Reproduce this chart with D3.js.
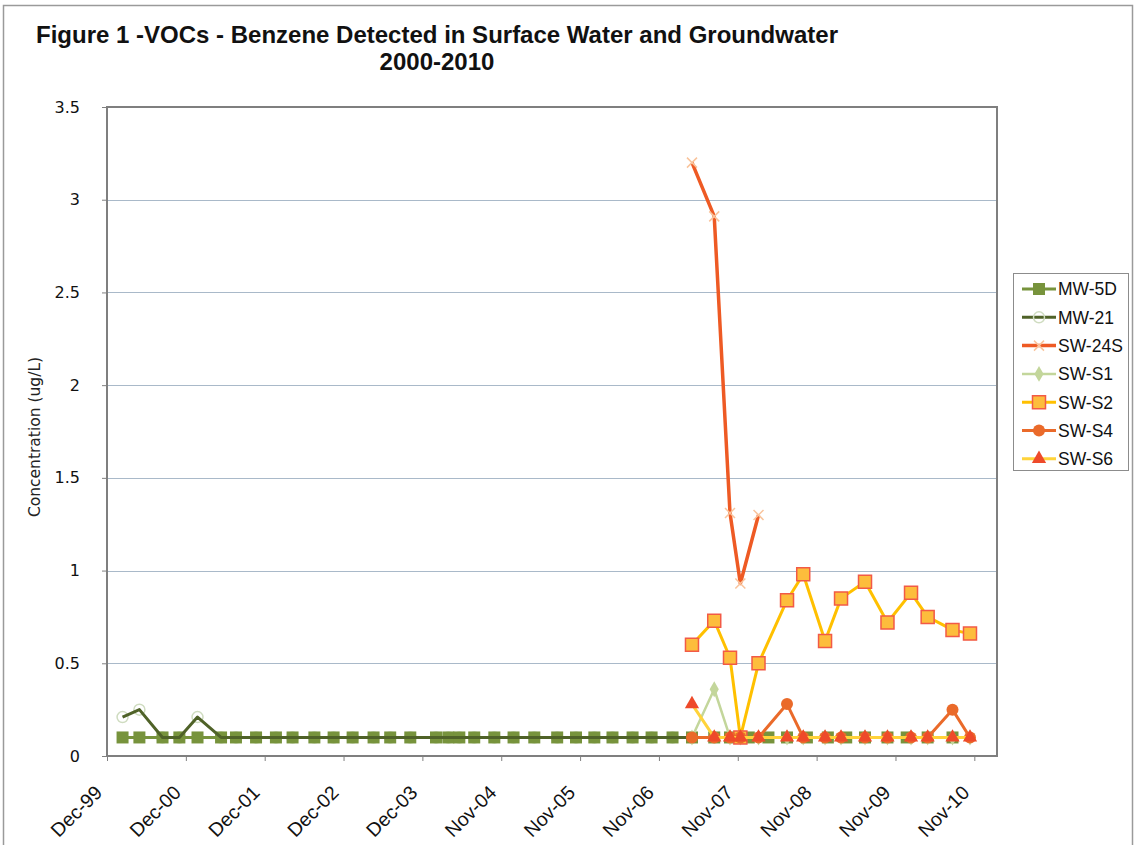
<!DOCTYPE html>
<html lang="en">
<head>
  <meta charset="UTF-8">
  <title>Benzene Detected in Surface Water and Groundwater</title>
  <script src="https://d3js.org/d3.v7.min.js"></script>
  <style>
    body { margin: 0; background: #fff; }
    svg { display: block; font-family: "Liberation Sans", Arial, sans-serif; }
    .grid line { stroke: #a9b9c9; stroke-width: 1; }
    .axis path, .axis line { stroke: #808080; }
  </style>
</head>
<body>
<svg id="chart" width="1136" height="845"></svg>

<script>
  // sampling dates of the monitoring wells
  const mwDates = [
    "2000-02-12", "2000-04-30", "2000-08-15", "2000-11-01", "2001-01-24", "2001-05-13",
    "2001-07-21", "2001-10-22", "2002-01-22", "2002-04-09", "2002-07-19", "2002-10-16",
    "2003-01-12", "2003-04-19", "2003-07-05", "2003-10-06", "2004-02-02", "2004-03-30",
    "2004-05-20", "2004-07-28", "2004-10-29", "2005-01-26", "2005-05-02", "2005-08-16",
    "2005-11-11", "2006-02-04", "2006-04-29", "2006-07-31", "2006-10-27", "2007-02-01",
    "2007-05-02"
  ];
  const mw5dLateDates = [
    "2007-08-13", "2007-10-25", "2008-01-20", "2008-04-20", "2008-07-15", "2008-10-15",
    "2009-01-20", "2009-04-15", "2009-07-11", "2009-10-23", "2010-01-20", "2010-04-27",
    "2010-08-20"
  ];
  // surface water sampling dates
  const swDates = [
    "2007-05-02", "2007-08-13", "2007-10-25", "2007-12-12", "2008-03-05", "2008-07-15",
    "2008-09-28", "2009-01-07", "2009-03-22", "2009-07-11", "2009-10-23", "2010-02-09",
    "2010-04-27", "2010-08-20", "2010-11-09"
  ];

  // concentrations (ug/L)
  const mw5d = new Array(mwDates.length + mw5dLateDates.length).fill(0.1);
  const mw21 = [0.21, 0.25, 0.1, 0.1, 0.21, 0.1, 0.1, 0.1, 0.1, 0.1, 0.1, 0.1, 0.1, 0.1, 0.1, 0.1,
                0.1, 0.1, 0.1, 0.1, 0.1, 0.1, 0.1, 0.1, 0.1, 0.1, 0.1, 0.1, 0.1, 0.1, 0.1];
  const sw24s = [3.2, 2.91, 1.31, 0.93, 1.3];
  const swS1 = [0.1, 0.36, 0.1, 0.1, 0.1, 0.1, 0.1, 0.1, 0.1, 0.1, 0.1, 0.1, 0.1, 0.1, 0.1];
  const swS2 = [0.6, 0.73, 0.53, 0.1, 0.5, 0.84, 0.98, 0.62, 0.85, 0.94, 0.72, 0.88, 0.75, 0.68, 0.66];
  const swS4 = [0.1, 0.1, 0.1, 0.1, 0.1, 0.28, 0.1, 0.1, 0.1, 0.1, 0.1, 0.1, 0.1, 0.25, 0.1];
  const swS6 = [0.28, 0.1, 0.1, 0.1, 0.1, 0.1, 0.1, 0.1, 0.1, 0.1, 0.1, 0.1, 0.1, 0.1, 0.1];

  const yTicks = [0, 0.5, 1, 1.5, 2, 2.5, 3, 3.5];

  const parse = d3.timeParse("%Y-%m-%d");
  const zip = (dates, vals) => vals.map((v, i) => ({ date: parse(dates[i]), value: v }));

  const series = [
    { name: "MW-5D",  data: zip(mwDates.concat(mw5dLateDates), mw5d), line: "#77933c", width: 3, marker: "square", fill: "#77933c", stroke: "none", size: 12 },
    { name: "MW-21",  data: zip(mwDates, mw21), line: "#4f6228", width: 3, marker: "circle", fill: "none", stroke: "#cfdcc0", size: 11 },
    { name: "SW-24S", data: zip(swDates, sw24s), line: "#ee5a24", width: 3.5, marker: "x", fill: "none", stroke: "#f9c49c", size: 10 },
    { name: "SW-S1",  data: zip(swDates, swS1), line: "#c3d69b", width: 2.5, marker: "diamond", fill: "#c3d69b", stroke: "none", size: 11 },
    { name: "SW-S2",  data: zip(swDates, swS2), line: "#ffc000", width: 3, marker: "square", fill: "#fdbd3c", stroke: "#f25a46", size: 13 },
    { name: "SW-S4",  data: zip(swDates, swS4), line: "#ea6a2a", width: 3, marker: "circle", fill: "#ea6a2a", stroke: "none", size: 12 },
    { name: "SW-S6",  data: zip(swDates, swS6), line: "#ffd33a", width: 3, marker: "triangle", fill: "#ee4a2a", stroke: "none", size: 14 }
  ];

  const svg = d3.select("#chart");
  const plot = { left: 107, right: 997, top: 107, bottom: 756 };

  // outer chart border
  svg.append("rect")
      .attr("x", 3.5).attr("y", 5.5).attr("width", 1129).attr("height", 850)
      .attr("fill", "none").attr("stroke", "#9a9a9a").attr("stroke-width", 1.5);

  // axis starts Dec-99, major unit 365 days
  const start = new Date(1999, 11, 2);
  const x = d3.scaleTime()
      .domain([start, d3.timeDay.offset(start, 4120)])
      .range([plot.left, plot.right]);
  const y = d3.scaleLinear()
      .domain([0, 3.5])
      .range([plot.bottom, plot.top]);

  const xTicks = d3.range(12).map(k => d3.timeDay.offset(start, 365 * k));

  // gridlines
  svg.append("g")
      .attr("class", "grid")
    .selectAll("line")
    .data(yTicks.filter(t => t > 0 && t < 3.5))
    .enter().append("line")
      .attr("x1", plot.left).attr("x2", plot.right)
      .attr("y1", d => Math.round(y(d)) + 0.5).attr("y2", d => Math.round(y(d)) + 0.5);

  // plot frame
  svg.append("rect")
      .attr("x", plot.left).attr("y", plot.top)
      .attr("width", plot.right - plot.left).attr("height", plot.bottom - plot.top)
      .attr("fill", "none").attr("stroke", "#7f7f7f").attr("stroke-width", 2);

  // y axis
  const yAxis = svg.append("g")
      .attr("class", "axis")
      .attr("transform", `translate(${plot.left},0)`)
      .call(d3.axisLeft(y).tickValues(yTicks).tickSize(5).tickPadding(22)
        .tickFormat(d3.format("")));
  yAxis.select(".domain").remove();
  yAxis.selectAll("text")
      .style("font-family", "'DejaVu Sans', sans-serif")
      .style("font-size", "16px")
      .attr("fill", "#111");

  // x axis
  const xAxis = svg.append("g")
      .attr("class", "axis")
      .attr("transform", `translate(0,${plot.bottom})`)
      .call(d3.axisBottom(x).tickValues(xTicks).tickSize(5)
        .tickFormat(d3.timeFormat("%b-%y")));
  xAxis.select(".domain").remove();
  xAxis.selectAll("text")
      .style("font-size", "19.5px")
      .attr("fill", "#111")
      .attr("text-anchor", "end")
      .attr("y", 0).attr("dy", "0.35em")
      .attr("transform", "translate(-9,33) rotate(-45)");

  // series lines and markers
  const symbolType = { square: d3.symbolSquare, circle: d3.symbolCircle, diamond: d3.symbolDiamond, triangle: d3.symbolTriangle };

  function drawMarker(g, s) {
    if (s.marker === "x") {
      const h = s.size / 2;
      g.append("path")
          .attr("d", `M${-h},${-h}L${h},${h}M${-h},${h}L${h},${-h}`)
          .attr("stroke", s.stroke).attr("stroke-width", 1.5).attr("fill", "none");
    } else {
      const area = s.marker === "circle" ? Math.PI * (s.size / 2) ** 2
                 : s.marker === "triangle" ? s.size * s.size * 0.45
                 : s.marker === "diamond" ? s.size * s.size * 0.6
                 : s.size * s.size;
      g.append("path")
          .attr("d", d3.symbol().type(symbolType[s.marker]).size(area)())
          .attr("fill", s.fill)
          .attr("stroke", s.stroke)
          .attr("stroke-width", s.stroke === "none" ? 0 : 1.5);
    }
  }

  const line = d3.line().x(d => x(d.date)).y(d => y(d.value));

  function drawLine(s) {
    svg.append("path")
        .datum(s.data)
        .attr("d", line)
        .attr("fill", "none")
        .attr("stroke", s.line)
        .attr("stroke-width", s.width)
        .attr("stroke-linejoin", "round");
  }
  function drawMarkers(s) {
    svg.append("g").selectAll("g")
      .data(s.data)
      .enter().append("g")
        .attr("transform", d => `translate(${x(d.date)},${y(d.value)})`)
        .each(function() { drawMarker(d3.select(this), s); });
  }

  // the hollow MW-21 rings sit under the MW-5D squares, its line on top
  drawMarkers(series[1]);
  drawLine(series[0]);
  drawMarkers(series[0]);
  drawLine(series[1]);
  series.slice(2).forEach(s => { drawLine(s); drawMarkers(s); });

  // legend
  const legend = svg.append("g").attr("transform", "translate(1013,273)");
  legend.append("rect")
      .attr("x", 0.5).attr("y", 0.5).attr("width", 115).attr("height", 197)
      .attr("fill", "#fff").attr("stroke", "#8c8c8c").attr("stroke-width", 1);
  const item = legend.selectAll("g.item")
    .data(series)
    .enter().append("g")
      .attr("class", "item")
      .attr("transform", (d, i) => `translate(0,${16 + i * 28.3})`);
  item.append("line")
      .attr("x1", 9).attr("x2", 43)
      .attr("stroke", d => d.line).attr("stroke-width", d => d.width);
  item.append("g")
      .attr("transform", "translate(26,0)")
      .each(function(d) { drawMarker(d3.select(this), d); });
  item.append("text")
      .attr("x", 45).attr("dy", "0.36em")
      .style("font-size", "17.5px")
      .attr("fill", "#111")
      .text(d => d.name);

  // titles
  svg.append("text")
      .attr("x", 437).attr("y", 43)
      .attr("text-anchor", "middle")
      .style("font-size", "24px").style("font-weight", "bold")
      .attr("fill", "#111")
      .text("Figure 1 -VOCs - Benzene Detected in Surface Water and Groundwater");
  svg.append("text")
      .attr("x", 437).attr("y", 70)
      .attr("text-anchor", "middle")
      .style("font-size", "24px").style("font-weight", "bold")
      .attr("fill", "#111")
      .text("2000-2010");
  svg.append("text")
      .attr("transform", "translate(40,437) rotate(-90)")
      .attr("text-anchor", "middle")
      .style("font-family", "'DejaVu Sans', sans-serif")
      .style("font-size", "15.5px")
      .attr("fill", "#222")
      .text("Concentration (ug/L)");
</script>
</body>
</html>
